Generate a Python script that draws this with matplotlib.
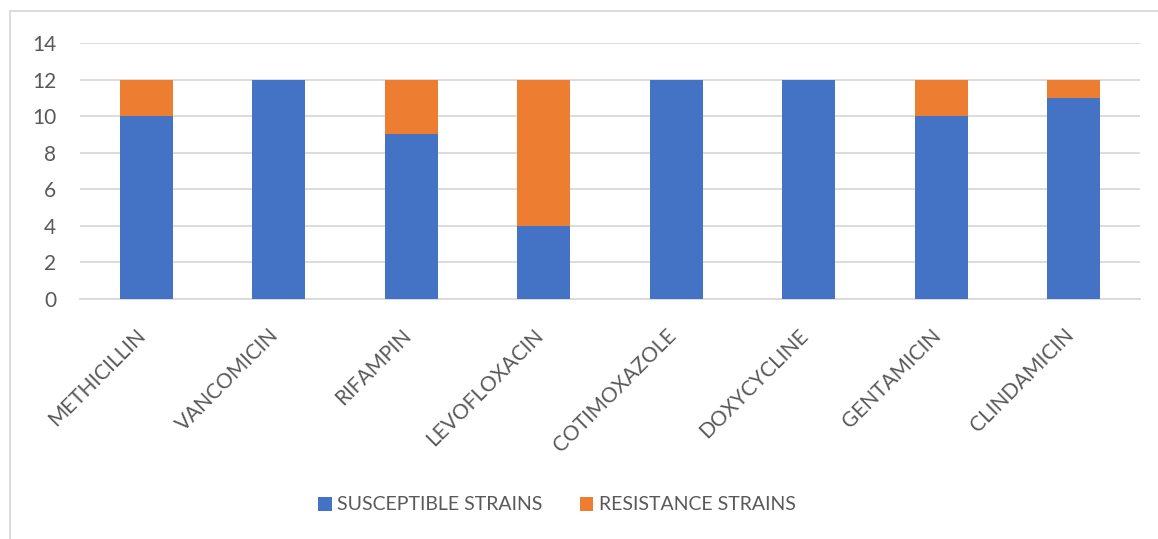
import matplotlib
matplotlib.use("Agg")
import matplotlib.pyplot as plt
from matplotlib.patches import Rectangle, Patch
import numpy as np

antibiotics = ["METHICILLIN", "VANCOMICIN", "RIFAMPIN", "LEVOFLOXACIN",
               "COTIMOXAZOLE", "DOXYCYCLINE", "GENTAMICIN", "CLINDAMICIN"]
susceptible = [10, 12, 9, 4, 12, 12, 10, 11]
resistant = [2, 0, 3, 8, 0, 0, 2, 1]
y_ticks = [0, 2, 4, 6, 8, 10, 12, 14]
series_names = ["SUSCEPTIBLE STRAINS", "RESISTANCE STRAINS"]

BLUE = "#4472C4"
ORANGE = "#ED7D31"
GRID = "#D9D9D9"
TEXT = "#595959"
FONT = ["Lato", "DejaVu Sans"]

W, H = 1158, 539
fig = plt.figure(figsize=(W / 100, H / 100), dpi=100)
fig.patch.set_facecolor("white")

# chart frame
fig.patches.append(Rectangle((10 / W, -0.05), 1.1, 1 - 11 / H + 0.05,
                             transform=fig.transFigure, fill=False,
                             edgecolor=GRID, linewidth=1.3))

ax = fig.add_axes([80 / W, (H - 299) / H, 1060 / W, 256 / H])
x = np.arange(len(antibiotics))
ax.bar(x, susceptible, width=0.4, color=BLUE, linewidth=0, zorder=3)
ax.bar(x, resistant, width=0.4, bottom=susceptible, color=ORANGE,
       linewidth=0, zorder=3)

ax.set_xlim(-0.5, len(antibiotics) - 0.5)
ax.set_ylim(0, 14)
ax.set_yticks(y_ticks)
ax.set_yticklabels([str(v) for v in y_ticks], fontsize=15, color=TEXT,
                   family=FONT)
ax.yaxis.grid(True, color=GRID, linewidth=1.3, zorder=0)
ax.tick_params(axis="y", length=0, pad=17)
for side in ["left", "right", "top"]:
    ax.spines[side].set_visible(False)
ax.spines["bottom"].set_color(GRID)
ax.spines["bottom"].set_linewidth(1.3)

# category labels, rotated, ending under each bar
ax.set_xticks(x)
ax.set_xticklabels([])
ax.tick_params(axis="x", length=0)
for i, name in enumerate(antibiotics):
    ax.annotate(name, xy=(i, 0), xycoords=("data", "axes fraction"),
                xytext=(-2.5, -24), textcoords="offset points",
                rotation=45, rotation_mode="anchor", ha="right", va="center",
                fontsize=15, color=TEXT, family=FONT)

handles = [Patch(facecolor=BLUE), Patch(facecolor=ORANGE)]
fig.legend(handles, series_names, loc="center", ncol=2,
           bbox_to_anchor=(557 / W, 1 - 505 / H), frameon=False,
           handlelength=0.7, handleheight=0.7, handletextpad=0.3,
           columnspacing=1.9, prop={"family": FONT, "size": 14},
           labelcolor=TEXT)

fig.savefig("out.png", dpi=100, facecolor="white")
